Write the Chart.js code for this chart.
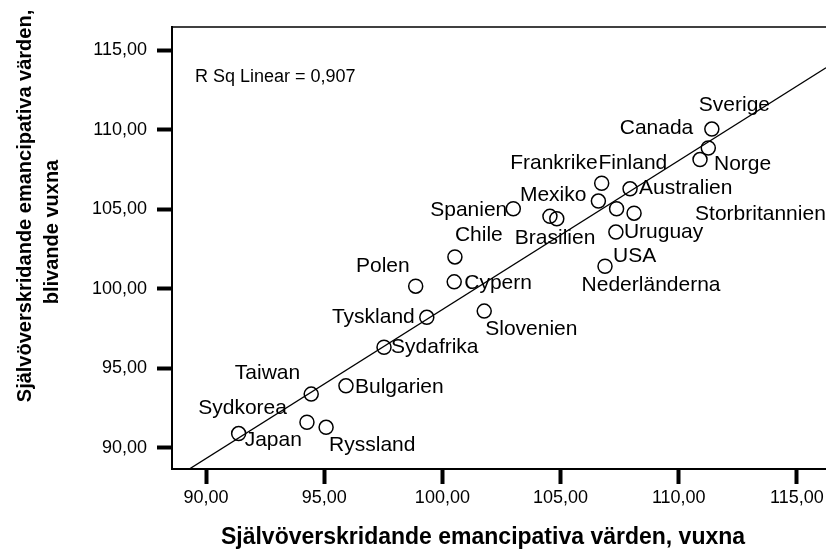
<!DOCTYPE html>
<html>
<head>
<meta charset="utf-8">
<script src="https://cdn.jsdelivr.net/npm/chart.js@4.4.1/dist/chart.umd.min.js"></script>
<style>
  html, body { margin: 0; padding: 0; background: #fff; }
  #wrap { width: 826px; height: 551px; }
</style>
</head>
<body>
<div id="wrap"><canvas id="grafico" width="826" height="551"></canvas></div>
<script>
// Datos
var paises = ['Sverige', 'Canada', 'Norge', 'Frankrike', 'Finland', 'Australien',
  'Storbritannien', 'Nederländerna', 'Uruguay', 'USA', 'Spanien', 'Mexiko',
  'Brasilien', 'Chile', 'Polen', 'Cypern', 'Tyskland', 'Slovenien',
  'Sydafrika', 'Taiwan', 'Bulgarien', 'Sydkorea', 'Japan', 'Ryssland'];
var vuxna = [111.40, 111.25, 110.90, 106.74, 106.60, 107.94,
  108.11, 107.37, 107.34, 106.88, 103.00, 104.55,
  104.84, 100.53, 98.87, 100.50, 99.34, 101.77,
  97.53, 94.45, 95.92, 94.27, 91.38, 95.08];
var blivande = [110.03, 108.84, 108.11, 106.62, 105.50, 106.27,
  104.74, 105.02, 103.55, 101.40, 105.02, 104.54,
  104.39, 101.99, 100.15, 100.42, 98.19, 98.58,
  96.31, 93.36, 93.88, 91.59, 90.88, 91.27];
var xTicks = [90, 95, 100, 105, 110, 115];
var yTicks = [90, 95, 100, 105, 110, 115];
var textoRSq = 'R Sq Linear = 0,907';
var tituloX = 'Självöverskridande emancipativa värden, vuxna';
var tituloY = ['Självöverskridande emancipativa värden,', 'blivande vuxna'];

// Posicion de cada etiqueta respecto a su punto: [alineacion, dx, dy]
var posEtiqueta = [
  ['left', -13, -24], ['right', -15, -20], ['left', 14, 5], ['right', -4, -20],
  ['left', 0, -38], ['left', 9, -1], ['left', 61, 1], ['left', -35, 76],
  ['left', 8, 0], ['left', 8, -10], ['right', -6, 1], ['left', -30, -21],
  ['left', -42, 19], ['left', 0, -22], ['right', -6, -20], ['left', 10, 1],
  ['right', -12, 0], ['left', 1, 18], ['left', 7, 0], ['right', -11, -21],
  ['left', 9, 1], ['right', -20, -14], ['left', 6, 7], ['left', 3, 18]
];

var X_MIN = 88.56, X_MAX = 116.23;
var Y_MIN = 88.65, Y_MAX = 116.45;
var FUENTE = '"Liberation Sans", Arial, sans-serif';

// Recta de regresion por minimos cuadrados
function ajuste(xs, ys) {
  var n = xs.length, mx = 0, my = 0;
  for (var i = 0; i < n; i++) { mx += xs[i]; my += ys[i]; }
  mx /= n; my /= n;
  var sxy = 0, sxx = 0;
  for (var j = 0; j < n; j++) {
    sxy += (xs[j] - mx) * (ys[j] - my);
    sxx += (xs[j] - mx) * (xs[j] - mx);
  }
  var b = sxy / sxx;
  return { a: my - b * mx, b: b };
}
var recta = ajuste(vuxna, blivande);

var puntos = vuxna.map(function (v, i) { return { x: v, y: blivande[i] }; });
var lineaAjuste = [
  { x: X_MIN, y: recta.a + recta.b * X_MIN },
  { x: X_MAX, y: recta.a + recta.b * X_MAX }
];

const textos = {
  id: 'textos',
  afterDatasetsDraw(chart) {
    const ctx = chart.ctx;
    const area = chart.chartArea;
    ctx.save();
    // borde superior
    ctx.strokeStyle = '#000';
    ctx.lineWidth = 1.5;
    ctx.beginPath();
    ctx.moveTo(area.left, area.top);
    ctx.lineTo(area.right, area.top);
    ctx.stroke();

    // etiquetas de paises
    const meta = chart.getDatasetMeta(0);
    ctx.fillStyle = '#000';
    ctx.font = '21px ' + FUENTE;
    ctx.textBaseline = 'middle';
    meta.data.forEach(function (pt, i) {
      const p = posEtiqueta[i];
      ctx.textAlign = p[0];
      ctx.fillText(paises[i], pt.x + p[1], pt.y + p[2]);
    });

    // R cuadrado
    ctx.font = '18px ' + FUENTE;
    ctx.textAlign = 'left';
    ctx.fillText(textoRSq, 195, 77);

    // titulos de los ejes
    ctx.font = 'bold 23px ' + FUENTE;
    ctx.textAlign = 'center';
    ctx.fillText(tituloX, 483, 538);

    ctx.font = 'bold 20px ' + FUENTE;
    ctx.save();
    ctx.translate(25, 206);
    ctx.rotate(-Math.PI / 2);
    ctx.fillText(tituloY[0], 0, 0);
    ctx.restore();
    ctx.save();
    ctx.translate(52, 232);
    ctx.rotate(-Math.PI / 2);
    ctx.fillText(tituloY[1], 0, 0);
    ctx.restore();
    ctx.restore();
  }
};

function formato(v) { return Number(v).toFixed(2).replace('.', ','); }

new Chart(document.getElementById('grafico'), {
  type: 'scatter',
  data: {
    datasets: [{
      data: puntos,
      pointStyle: 'circle',
      pointRadius: 7,
      pointHoverRadius: 7,
      pointBorderWidth: 1.5,
      pointBorderColor: '#000',
      pointBackgroundColor: 'rgba(0,0,0,0)'
    }, {
      type: 'line',
      data: lineaAjuste,
      borderColor: '#000',
      borderWidth: 1.3,
      pointRadius: 0,
      fill: false
    }]
  },
  options: {
    responsive: false,
    animation: false,
    devicePixelRatio: 1,
    events: [],
    layout: { autoPadding: false, padding: { top: 27, right: 0, left: 0, bottom: 0 } },
    plugins: {
      legend: { display: false },
      title: { display: false },
      tooltip: { enabled: false }
    },
    scales: {
      x: {
        type: 'linear',
        min: X_MIN,
        max: X_MAX,
        afterBuildTicks: function (s) { s.ticks = xTicks.map(function (v) { return { value: v }; }); },
        afterFit: function (s) { s.height = 82; s.paddingLeft = 0; s.paddingRight = 0; },
        grid: { drawOnChartArea: false, drawTicks: true, tickLength: 15, tickWidth: 4, tickColor: '#000' },
        border: { display: true, color: '#000', width: 2 },
        ticks: {
          color: '#000', padding: 3, maxRotation: 0, autoSkip: false,
          font: { family: FUENTE, size: 18 },
          callback: formato
        }
      },
      y: {
        type: 'linear',
        min: Y_MIN,
        max: Y_MAX,
        afterBuildTicks: function (s) { s.ticks = yTicks.map(function (v) { return { value: v }; }); },
        afterFit: function (s) { s.width = 172; s.paddingTop = 0; s.paddingBottom = 0; },
        grid: { drawOnChartArea: false, drawTicks: true, tickLength: 15, tickWidth: 4, tickColor: '#000' },
        border: { display: true, color: '#000', width: 2 },
        ticks: {
          color: '#000', padding: 10, autoSkip: false,
          font: { family: FUENTE, size: 18 },
          callback: formato
        }
      }
    }
  },
  plugins: [textos]
});
</script>
</body>
</html>
